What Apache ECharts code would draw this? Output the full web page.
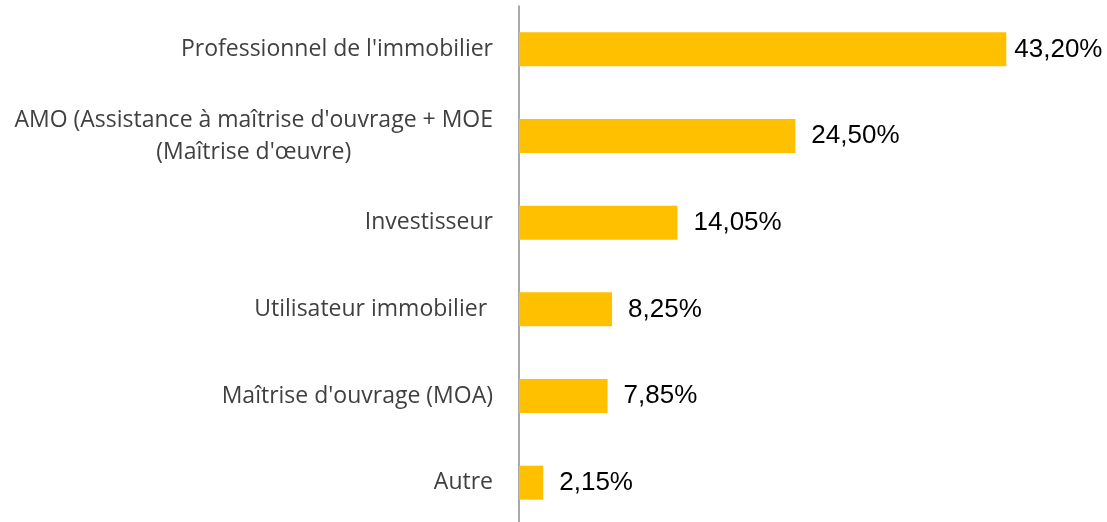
<!DOCTYPE html>
<html>
<head>
<meta charset="utf-8">
<script src="https://cdn.jsdelivr.net/npm/echarts@6/dist/echarts.min.js"></script>
<style>
  html, body { margin: 0; padding: 0; background: #fff; }
  #chart { width: 1107px; height: 522px; }
</style>
</head>
<body>
<div id="chart"></div>
<script>
var chartDom = document.getElementById("chart");
var chart = echarts.init(chartDom);

// top to bottom
const categories = [
  "Professionnel de l'immobilier",
  "AMO (Assistance à maîtrise d'ouvrage + MOE\n(Maîtrise d'œuvre)",
  "Investisseur",
  "Utilisateur immobilier ",
  "Maîtrise d'ouvrage (MOA)",
  "Autre",
];
const values = [43.2, 24.5, 14.05, 8.25, 7.85, 2.15];

// the longest label sits closer to its bar in the original
var barData = values.map(function (v, i) {
  return i === 0 ? { value: v, label: { distance: 8 } } : v;
});

var labelFont = {
  color: "#404040",
  fontFamily: "Open Sans",
  fontSize: 23,
  lineHeight: 32,
};

var option = {
  animation: false,
  grid: {
    left: 519,
    top: 6,
    width: 564,
    height: 520,
    outerBoundsMode: "none",
    containLabel: false,
  },
  xAxis: {
    type: "value",
    min: 0,
    max: 50,
    show: false,
  },
  yAxis: {
    type: "category",
    inverse: true,
    data: categories,
    axisLine: { show: true, lineStyle: { color: "#8c8c8c", width: 1.5 } },
    axisTick: { show: false },
    axisLabel: Object.assign({}, labelFont, {
      margin: 26,
      align: "right",
      // wrapped labels are centred line by line, like the original
      formatter: function (v) {
        var lines = v.split("\n");
        if (lines.length === 1) return v;
        return lines.map(function (l) { return "{c|" + l + "}"; }).join("\n");
      },
      rich: {
        c: Object.assign({}, labelFont, { align: "center" }),
      },
    }),
  },
  series: [
    {
      type: "bar",
      data: barData,
      barWidth: 34,
      itemStyle: { color: "#FFC000" },
      label: {
        show: true,
        position: "right",
        distance: 16,
        color: "#000",
        fontFamily: "Liberation Sans",
        fontSize: 26,
        formatter: function (p) {
          return p.value.toFixed(2).replace(".", ",") + "%";
        },
      },
    },
  ],
};

chart.setOption(option);

window.addEventListener("resize", function () {
  chart.resize();
});
</script>
</body>
</html>
